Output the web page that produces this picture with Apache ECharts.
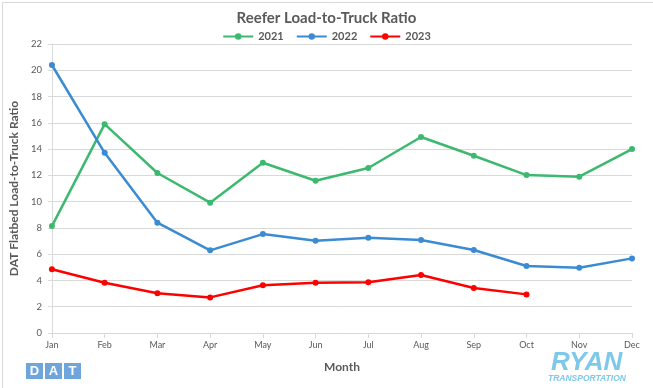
<!DOCTYPE html>
<html><head><meta charset="utf-8">
<script src="https://cdn.jsdelivr.net/npm/echarts@6/dist/echarts.min.js"></script>
<style>html,body{margin:0;padding:0;background:#fff}#c{width:653px;height:388px}</style>
</head><body><div id="c"></div>
<script>
const months = ['Jan','Feb','Mar','Apr','May','Jun','Jul','Aug','Sep','Oct','Nov','Dec'];
const s2021 = [8.14, 15.9, 12.18, 9.92, 12.96, 11.59, 12.56, 14.92, 13.49, 12.02, 11.9, 14.0];
const s2022 = [20.4, 13.72, 8.4, 6.29, 7.53, 7.03, 7.25, 7.08, 6.32, 5.1, 4.97, 5.68];
const s2023 = [4.85, 3.83, 3.02, 2.71, 3.63, 3.83, 3.86, 4.41, 3.42, 2.94, null, null];
const seriesNames = ['2021','2022','2023'];
const colors = ['#3cb96f','#3b8bd3','#ff0000'];
const font = 'Lato, "Open Sans", sans-serif';
const logoFont = '"Liberation Sans", Arial, sans-serif';
const chart = echarts.init(document.getElementById('c'));
const mk = (name, data, color) => ({
  name, type:'line', data, symbol:'circle', symbolSize:6,
  lineStyle:{width:2.5,color}, itemStyle:{color}, connectNulls:false
});
chart.setOption({
  animation:false,
  title:{text:'Reefer Load-to-Truck Ratio', left:'center', top:6,
    textStyle:{fontFamily:font, fontSize:15, fontWeight:'bold', color:'#595959'}},
  legend:{top:26, left:'center', itemWidth:30, itemHeight:8, itemGap:12,
    textStyle:{fontFamily:font, fontSize:11, fontWeight:'bold', color:'#595959'},
    data:seriesNames},
  grid:{left:42, right:21, top:44, bottom:55, containLabel:false},
  xAxis:{type:'category', data:months, boundaryGap:false,
    name:'Month', nameLocation:'middle', nameGap:28,
    nameTextStyle:{fontFamily:font, fontSize:12, fontWeight:'bold', color:'#595959'},
    axisLine:{lineStyle:{color:'#d9d9d9'}},
    axisTick:{show:true, length:5, lineStyle:{color:'#d9d9d9'}},
    axisLabel:{fontFamily:font, fontSize:9, color:'#595959', margin:8}},
  yAxis:{type:'value', min:0, max:22, interval:2,
    name:'DAT Flatbed Load-to-Truck Ratio', nameLocation:'middle', nameGap:28,
    nameTextStyle:{fontFamily:font, fontSize:12, fontWeight:'bold', color:'#595959'},
    axisLine:{show:true, lineStyle:{color:'#d9d9d9'}},
    axisTick:{show:true, length:4, lineStyle:{color:'#d9d9d9'}},
    axisLabel:{fontFamily:font, fontSize:9.5, color:'#595959', margin:10},
    splitLine:{lineStyle:{color:'#d9d9d9'}}},
  series:[mk(seriesNames[0], s2021, colors[0]), mk(seriesNames[1], s2022, colors[1]), mk(seriesNames[2], s2023, colors[2])],
  graphic:[
    {type:'rect', left:0, top:0, z:-1, shape:{x:0.5,y:0.5,width:652,height:386}, style:{fill:'none', stroke:'#d9d9d9', lineWidth:1}},
    {type:'group', left:26, top:363, children:[
      {type:'rect', shape:{x:0,y:0,width:17,height:16}, style:{fill:'#6ea6dc'}},
      {type:'rect', shape:{x:19,y:0,width:17,height:16}, style:{fill:'#6ea6dc'}},
      {type:'rect', shape:{x:38,y:0,width:17,height:16}, style:{fill:'#6ea6dc'}},
      {type:'text', x:8.5, y:8.5, style:{text:'D', fill:'#fff', font:'bold 13px '+logoFont, align:'center', verticalAlign:'middle'}},
      {type:'text', x:27.5, y:8.5, style:{text:'A', fill:'#fff', font:'bold 13px '+logoFont, align:'center', verticalAlign:'middle'}},
      {type:'text', x:46.5, y:8.5, style:{text:'T', fill:'#fff', font:'bold 13px '+logoFont, align:'center', verticalAlign:'middle'}}
    ]},
    {type:'text', left:551, top:350, style:{text:'RYAN', fill:'#7ec8ea', font:'italic bold 26px '+logoFont}},
    {type:'text', left:548, top:374, style:{text:'TRANSPORTATION', fill:'#7ec8ea', font:'italic bold 8.5px '+logoFont}}
  ]
});
</script></body></html>
